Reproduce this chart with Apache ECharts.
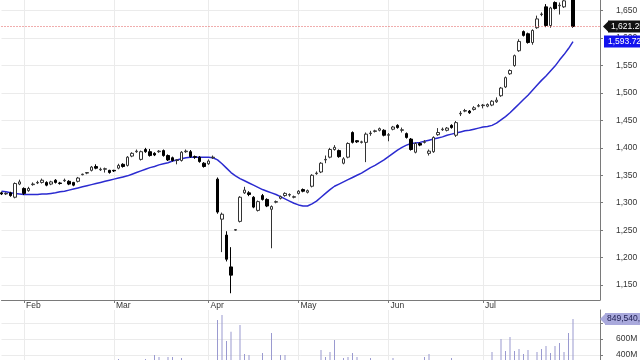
<!DOCTYPE html>
<html><head><meta charset="utf-8">
<script src="https://cdn.jsdelivr.net/npm/echarts@6/dist/echarts.min.js"></script>
<style>html,body{margin:0;padding:0;background:#fff}#c{width:640px;height:360px}</style>
</head><body><div id="c"></div>
<script>
// ---- data ----
const dates = [
 '2025-01-27','2025-01-28','2025-01-29','2025-01-30','2025-01-31',
 '2025-02-03','2025-02-04','2025-02-05','2025-02-06','2025-02-07','2025-02-10','2025-02-11','2025-02-12','2025-02-13','2025-02-14',
 '2025-02-17','2025-02-18','2025-02-19','2025-02-20','2025-02-21','2025-02-24','2025-02-25','2025-02-26','2025-02-27','2025-02-28',
 '2025-03-03','2025-03-04','2025-03-05','2025-03-06','2025-03-07','2025-03-10','2025-03-11','2025-03-12','2025-03-13','2025-03-14',
 '2025-03-17','2025-03-18','2025-03-19','2025-03-20','2025-03-21','2025-03-24','2025-03-25','2025-03-26','2025-03-27','2025-03-28','2025-03-31',
 '2025-04-01','2025-04-02','2025-04-03','2025-04-04','2025-04-07','2025-04-08','2025-04-09','2025-04-10','2025-04-11','2025-04-14',
 '2025-04-15','2025-04-16','2025-04-17','2025-04-22','2025-04-23','2025-04-24','2025-04-25','2025-04-28','2025-04-29','2025-04-30',
 '2025-05-01','2025-05-02','2025-05-06','2025-05-07','2025-05-08','2025-05-09','2025-05-12','2025-05-13','2025-05-14','2025-05-15',
 '2025-05-16','2025-05-19','2025-05-20','2025-05-21','2025-05-22','2025-05-23','2025-05-27','2025-05-28','2025-05-29','2025-05-30',
 '2025-06-02','2025-06-03','2025-06-04','2025-06-05','2025-06-06','2025-06-09','2025-06-10','2025-06-11','2025-06-12','2025-06-13',
 '2025-06-16','2025-06-17','2025-06-18','2025-06-19','2025-06-20','2025-06-23','2025-06-24','2025-06-25','2025-06-26','2025-06-27','2025-06-30',
 '2025-07-01','2025-07-02','2025-07-03','2025-07-04','2025-07-07','2025-07-08','2025-07-09','2025-07-10','2025-07-11','2025-07-14',
 '2025-07-15','2025-07-16','2025-07-17','2025-07-18','2025-07-21','2025-07-22','2025-07-23','2025-07-24','2025-07-25','2025-07-28','2025-07-29'
];
// empty future slots at the right edge of the axis
const futureDates = ['2025-07-30','2025-07-31','2025-08-01','2025-08-04','2025-08-05','2025-08-06'];

const opens = [
 1318,1316,1318,1310,1334,
 1326,1322,1333,1336,1337,1337,1334,1341,1336,1340,1339,1337,1339,1351,1354,1359,1366,1360,1361,1359,
 1359,1363,1370,1368,1385,1393,1379,1397,1393,1390,1393,1395,1386,1382,1377,1377,1393,1393,1384,1383,1372,
 1371,1382,1343,1270,1241,1183,1250,1266,1318,1318,1310,1286,1313,1306,1288,1301,1308,1313,1314,1310,
 1317,1324,1319,1330,1353,1356,1378,1383,1397,1395,1372,1383,1428,1413,1410,1410,1426,1430,1432,1432,
 1423,1434,1441,1432,1426,1416,1392,1408,1410,1390,1393,1424,1433,1432,1441,1423,1462,1467,1467,1470,1476,
 1477,1476,1478,1484,1495,1511,1535,1550,1577,1612,1608,1592,1619,1643,1657,1623,1665,1659,1657,1676,1682
];
const closes = [
 1316,1317,1313,1335,1338,
 1317,1326,1334,1337,1341,1332,1338,1337,1335,1341,1334,1332,1345,1352,1355,1365,1363,1361,1362,1355,
 1358,1368,1366,1383,1390,1394,1393,1393,1386,1387,1394,1386,1378,1377,1378,1392,1394,1384,1383,1375,1366,
 1376,1383,1283,1279,1197,1168,1251,1310,1323,1315,1292,1302,1306,1294,1293,1302,1311,1317,1315,1311,
 1321,1321,1322,1350,1354,1372,1379,1397,1401,1384,1380,1408,1410,1411,1411,1425,1427,1431,1435,1423,
 1424,1438,1437,1433,1419,1397,1408,1405,1411,1394,1419,1428,1434,1436,1437,1446,1463,1468,1464,1473,1477,
 1478,1479,1485,1487,1509,1528,1541,1568,1594,1605,1592,1614,1635,1644,1623,1655,1654,1660,1668,1682,1621.25
];
const lows = [
 1314,1314,1311,1308,1332,
 1314,1320,1331,1334,1335,1330,1332,1335,1333,1338,1332,1330,1337,1350,1352,1357,1361,1358,1355,1353,
 1356,1361,1364,1366,1383,1391,1377,1391,1384,1385,1391,1384,1376,1375,1370,1375,1391,1382,1380,1373,1364,
 1369,1380,1280,1210,1193,1135,1249,1264,1316,1312,1290,1284,1304,1292,1217,1299,1306,1311,1311,1308,
 1315,1319,1317,1328,1351,1354,1372,1381,1395,1382,1370,1381,1408,1409,1408,1374,1422,1428,1430,1421,
 1412,1432,1435,1428,1417,1395,1390,1403,1408,1386,1391,1422,1431,1430,1435,1420,1458,1465,1462,1468,1474,
 1472,1474,1476,1482,1493,1509,1533,1548,1575,1603,1590,1588,1617,1640,1620,1619,1652,1643,1655,1671,1619
];
const highs = [
 1320,1319,1320,1337,1342,
 1328,1329,1337,1340,1344,1339,1340,1343,1338,1344,1341,1338,1347,1353,1356,1367,1370,1364,1364,1360,
 1360,1371,1372,1385,1392,1397,1395,1400,1398,1392,1396,1397,1388,1384,1379,1394,1397,1396,1386,1385,1374,
 1379,1386,1346,1282,1248,1219,1252,1312,1329,1321,1312,1304,1316,1308,1295,1304,1313,1319,1317,1313,
 1323,1326,1324,1352,1357,1374,1386,1400,1405,1397,1383,1410,1430,1414,1413,1428,1431,1433,1437,1434,
 1427,1440,1443,1437,1428,1418,1410,1410,1414,1397,1421,1436,1437,1438,1443,1449,1467,1471,1469,1476,1480,
 1480,1481,1487,1492,1511,1530,1543,1570,1598,1614,1610,1616,1641,1647,1662,1657,1667,1665,1675,1688,1688
];
// moving average line
const movingAvg = [
 1321,1320,1318,1317,1316,
 1315,1315,1315,1315,1316,1316,1317,1318,1320,1321,1323,1325,1327,1329,1331,1333,1335,1337,1339,1341,
 1343,1345,1347,1349,1352,1355,1358,1361,1364,1366,1369,1371,1373,1376,1378,1380,1382,1383,1383,1383,1383,
 1383,1382,1378,1371,1363,1355,1349,1344,1340,1336,1332,1328,1324,1321,1318,1315,1311,1307,1303,1299,
 1296,1294,1294,1298,1303,1310,1317,1324,1330,1334,1338,1342,1346,1350,1354,1359,1364,1368,1373,1378,
 1384,1390,1396,1401,1405,1408,1409,1410,1412,1414,1416,1418,1420,1423,1425,1427,1429,1431,1432,1434,1436,
 1438,1439,1441,1445,1451,1457,1464,1472,1480,1488,1496,1505,1514,1523,1531,1540,1549,1560,1570,1581,1593.72
];
// volume in millions
const volumes = [
 290,275,260,300,285,
 310,270,250,265,280,255,245,260,270,240,230,255,275,265,300,285,270,260,290,305,
 295,350,310,320,300,315,325,350,320,400,375,325,375,375,330,362,300,310,290,320,330,
 305,320,837,900,575,690,300,775,412,400,330,320,425,325,675,310,400,400,300,310,
 290,280,300,320,310,462,375,437,587,320,362,375,425,375,300,330,362,290,280,320,
 300,362,310,290,300,320,310,300,375,412,320,310,290,270,362,330,310,300,320,290,310,
 320,330,437,300,600,450,625,450,475,412,462,330,437,475,512,425,512,550,437,675,849.544
];
const monthNames = ['Jan','Feb','Mar','Apr','May','Jun','Jul','Aug','Sep','Oct','Nov','Dec'];

// ---- chart ----
const FONT = 'Liberation Sans, Arial, sans-serif';
const axisCats = dates.concat(futureDates);
function isMonthStart(i) {
  return i > 0 && i < dates.length && dates[i].slice(5, 7) !== dates[i - 1].slice(5, 7);
}
const candleData = opens.map((o, i) => [o, closes[i], lows[i], highs[i]]);
const lastIdx = dates.length - 1;
const fmt2 = v => v.toLocaleString('en-US', {minimumFractionDigits: 2, maximumFractionDigits: 2});

const chart = echarts.init(document.getElementById('c'), null, {renderer: 'canvas'});
const gridLine = '#ebebeb';
const axisCol = '#7a7a7a';
const clear = 'rgba(0,0,0,0)';
chart.setOption({
  animation: false,
  backgroundColor: '#fff',
  textStyle: {fontFamily: FONT},
  grid: [
    {left: 1.5, right: 40, top: 0, height: 300, outerBoundsMode: 'none', containLabel: false},
    {left: 1.5, right: 40, top: 310, height: 77, outerBoundsMode: 'none', containLabel: false}
  ],
  xAxis: [
    {
      type: 'category', gridIndex: 0, data: axisCats, boundaryGap: false,
      axisLine: {lineStyle: {color: axisCol, width: 1}},
      axisTick: {show: true, interval: i => isMonthStart(i), length: 3, lineStyle: {color: axisCol}},
      axisLabel: {
        interval: i => isMonthStart(i), formatter: v => monthNames[+v.slice(5, 7) - 1],
        align: 'left', padding: [0, 0, 0, 2], margin: 1, fontSize: 8.5, color: '#333', fontFamily: FONT
      },
      splitLine: {show: true, interval: i => isMonthStart(i), lineStyle: {color: gridLine}}
    },
    {
      type: 'category', gridIndex: 1, data: axisCats, boundaryGap: false, position: 'top',
      axisLine: {lineStyle: {color: axisCol, width: 1}},
      axisTick: {show: false}, axisLabel: {show: false},
      splitLine: {show: true, interval: i => isMonthStart(i), lineStyle: {color: gridLine}}
    }
  ],
  yAxis: [
    {
      type: 'value', gridIndex: 0, position: 'right', min: 1122.7, max: 1669.5, splitNumber: 10,
      axisLine: {show: true, lineStyle: {color: axisCol}},
      axisTick: {show: true, length: 3, lineStyle: {color: axisCol}},
      axisLabel: {
        margin: 16, fontSize: 8.5, color: '#333', fontFamily: FONT,
        showMinLabel: false, showMaxLabel: false,
        formatter: v => v.toLocaleString('en-US')
      },
      splitLine: {show: true, showMinLine: false, showMaxLine: false, lineStyle: {color: gridLine}}
    },
    {
      type: 'value', gridIndex: 1, position: 'right', min: 0, max: 962.5, interval: 200,
      axisLine: {show: true, lineStyle: {color: axisCol}},
      axisTick: {show: true, length: 3, lineStyle: {color: axisCol}},
      axisLabel: {
        margin: 16, fontSize: 8.5, color: '#333', fontFamily: FONT,
        showMinLabel: false, showMaxLabel: false,
        formatter: v => v + 'M'
      },
      splitLine: {show: true, showMinLine: false, showMaxLine: false, lineStyle: {color: gridLine}}
    }
  ],
  series: [
    {
      type: 'line', xAxisIndex: 0, yAxisIndex: 0, data: movingAvg, symbol: 'none', z: 2,
      lineStyle: {color: '#2b2bd0', width: 1.5},
      markLine: {
        silent: true, symbol: ['none', 'none'], animation: false,
        data: [{yAxis: movingAvg[lastIdx]}],
        lineStyle: {color: clear, width: 1},
        label: {
          position: 'end', distance: 4, formatter: p => fmt2(p.value),
          backgroundColor: '#1212ee', color: '#fff', fontSize: 8.5, fontFamily: FONT,
          padding: [2, 3, 1, 4]
        }
      }
    },
    {
      type: 'candlestick', xAxisIndex: 0, yAxisIndex: 0, data: candleData, barWidth: 3, clip: false, z: 3,
      itemStyle: {color: '#ffffff', color0: '#000000', borderColor: '#333333', borderColor0: '#000000', borderWidth: 1},
      markLine: {
        silent: true, symbol: ['none', 'none'], animation: false,
        data: [{yAxis: closes[lastIdx]}],
        lineStyle: {color: '#e05a5a', type: [1, 2], width: 1},
        label: {
          position: 'end', distance: 8, formatter: p => fmt2(p.value),
          backgroundColor: '#111', color: '#fff', fontSize: 8.5, fontFamily: FONT,
          padding: [2, 3, 1, 3]
        }
      }
    },
    {
      type: 'bar', xAxisIndex: 1, yAxisIndex: 1, data: volumes, barWidth: 1,
      itemStyle: {color: '#9a9ad0'},
      markLine: {
        silent: true, symbol: ['none', 'none'], animation: false,
        data: [{yAxis: volumes[lastIdx]}],
        lineStyle: {color: clear, width: 1},
        label: {
          position: 'end', distance: 5,
          formatter: p => Math.round(p.value * 1e6).toLocaleString('en-US'),
          backgroundColor: '#a9a9dc', color: '#1c1c50', fontSize: 8.5, fontFamily: FONT,
          padding: [2, 3, 1, 2]
        }
      }
    }
  ]
});

// arrow tips of the value tags, positioned through the chart's own scales
const edge = chart.convertToPixel({gridIndex: 0}, [axisCats.length - 1, closes[lastIdx]]);
const vEdge = chart.convertToPixel({gridIndex: 1}, [axisCats.length - 1, volumes[lastIdx]]);
chart.setOption({
  graphic: [
    {type: 'polygon', z: 100, shape: {points: [[edge[0] + 3, edge[1]], [edge[0] + 8.5, edge[1] - 5.5], [edge[0] + 8.5, edge[1] + 5.5]]}, style: {fill: '#111'}},
    {type: 'polygon', z: 100, shape: {points: [[vEdge[0], vEdge[1]], [vEdge[0] + 5.5, vEdge[1] - 5.5], [vEdge[0] + 5.5, vEdge[1] + 5.5]]}, style: {fill: '#a9a9dc'}}
  ]
});
</script>
</body></html>
